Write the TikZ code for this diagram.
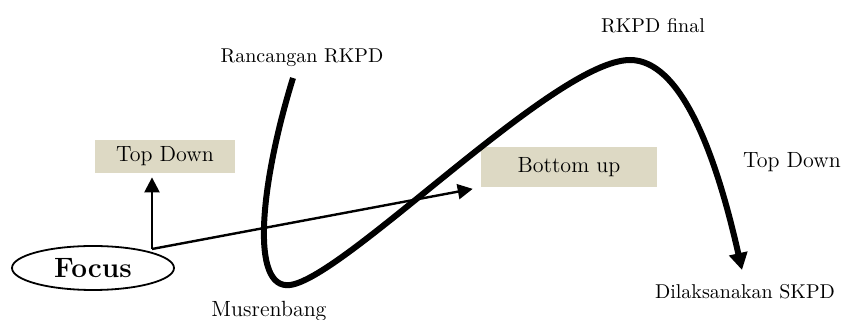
\documentclass[tikz,border=0pt]{standalone}
\usetikzlibrary{arrows.meta,shapes.geometric}
\definecolor{tan}{RGB}{221,217,196}
\begin{document}
\begin{tikzpicture}[x=0.5pt,y=-0.5pt,>={Triangle[length=7.5pt,width=7.5pt]},
	box/.style={fill=tan,inner sep=0pt,font=\fontsize{11}{13}\selectfont},
	lbl/.style={inner sep=0pt},
	big/.style={inner sep=0pt,font=\fontsize{11}{13}\selectfont}]
			\useasboundingbox (0,0) rectangle (843,320);
			\node[box,minimum width=70pt,minimum height=16.5pt] (td) at (165,156.5) {Top Down};
			\node[box,minimum width=88pt,minimum height=20pt] (bu) at (569,167) {Bottom up};
			\node[draw,ellipse,line width=0.9pt,inner sep=0pt,minimum width=81pt,minimum height=22pt] (focus) at (93,268) {\fontsize{14}{16}\selectfont\bfseries Focus};
			\node[lbl] (ran) at (302,58) {Rancangan RKPD};
			\node[lbl] (fin) at (653,26) {RKPD final};
			\node[big] (td2) at (792,162) {Top Down};
			\node[lbl] (ska) at (745,292) {Dilaksanakan SKPD};
			\node[big] (mus) at (269,311) {Musrenbang};
			\coordinate (corner) at (152,249);
			\draw[->,line width=1.2pt] (corner) -- (corner |- td.south) [shorten >=2pt];
			\draw[->,line width=1.2pt,shorten >=4pt] (corner) -- (bu.south west);
			\draw[line width=3pt,-{Triangle[length=8.5pt,width=9pt]}] (293,78) .. controls (260,185) and (250,290) .. (290,285)
				.. controls (345,278) and (555,60) .. (630,60)
				.. controls (680,60) and (715,150) .. (742,270);
			\end{tikzpicture}
\end{document}
